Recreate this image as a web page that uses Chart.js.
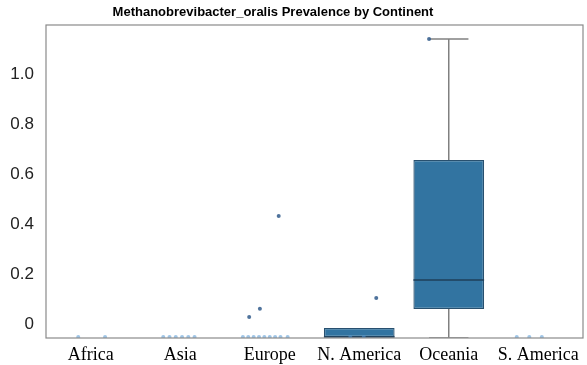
<!DOCTYPE html>
<html>
<head>
<meta charset="utf-8">
<script src="https://cdn.jsdelivr.net/npm/chart.js@4/dist/chart.umd.min.js"></script>
<style>
  html, body { margin: 0; padding: 0; background: #fff; }
  #wrap { width: 587px; height: 365px; }
</style>
</head>
<body>
<div id="wrap"><canvas id="chart" width="587" height="365"></canvas></div>
<script>
// ─── DATA ───────────────────────────────────────────────────────────
const titleText = 'Methanobrevibacter_oralis Prevalence by Continent';
const continents = ['Africa', 'Asia', 'Europe', 'N. America', 'Oceania', 'S. America'];
const yTicks = [0, 0.2, 0.4, 0.6, 0.8, 1.0];

// box stats per continent (null = no box drawn)
const boxQ1 = [null, null, null, -0.052, 0.06, null];
const boxQ3 = [null, null, null, -0.016, 0.656, null];
const boxMedian = [null, null, null, -0.052, 0.176, null];
const whiskerLow = [null, null, null, null, -0.056, null];
const whiskerHigh = [null, null, null, null, 1.14, null];

// strip points: category index, jitter, value
const stripCat = [0, 0, 1, 1, 1, 1, 1, 1, 2, 2, 2, 2, 2, 2, 2, 2, 2, 2, 2, 2, 3, 3, 3, 4, 5, 5, 5];
const stripJitter = [-0.14, 0.16, -0.19, -0.12, -0.05, 0.02, 0.09, 0.16,
  -0.3, -0.24, -0.18, -0.12, -0.06, 0.0, 0.06, 0.12, 0.2, -0.23, -0.11, 0.1,
  -0.1, 0.05, 0.19, -0.22, -0.24, -0.1, 0.04];
const stripValue = [-0.052, -0.052, -0.052, -0.052, -0.052, -0.052, -0.052, -0.052,
  -0.052, -0.052, -0.052, -0.052, -0.052, -0.052, -0.052, -0.052, -0.052, 0.028, 0.061, 0.432,
  -0.052, -0.052, 0.104, 1.14, -0.052, -0.052, -0.052];

// ─── STYLE ──────────────────────────────────────────────────────────
const boxFill = '#3274a1';
const boxEdge = '#28506f';
const whiskerColor = '#808080';
const frameColor = '#8a8a8a';

// ─── DATASETS ───────────────────────────────────────────────────────
const datasets = [];

// strip points on top
datasets.push({
  type: 'scatter',
  xAxisID: 'x2',
  order: 0,
  data: stripCat.map((c, i) => ({ x: c + stripJitter[i], y: stripValue[i] })),
  pointRadius: 2,
  pointBackgroundColor: stripValue.map(v => v < 0 ? 'rgba(80,150,210,0.55)' : 'rgba(60,100,145,0.9)'),
  pointBorderWidth: 0
});

// medians
continents.forEach((c, i) => {
  if (boxMedian[i] == null) return;
  datasets.push({
    type: 'scatter', xAxisID: 'x2', order: 1, showLine: true,
    data: [{ x: i - 0.395, y: boxMedian[i] }, { x: i + 0.395, y: boxMedian[i] }],
    borderColor: '#1f3f5a', borderWidth: 1.6, pointRadius: 0
  });
});

// boxes
datasets.push({
  type: 'bar',
  order: 2,
  grouped: false,
  data: continents.map((c, i) => boxQ1[i] == null ? null : [boxQ1[i], boxQ3[i]]),
  backgroundColor: boxFill,
  borderColor: boxEdge,
  borderWidth: 1.3,
  borderSkipped: false,
  barPercentage: 0.79,
  categoryPercentage: 1
});

// whiskers + caps
continents.forEach((c, i) => {
  if (whiskerHigh[i] == null) return;
  const segs = [
    [{ x: i, y: boxQ3[i] }, { x: i, y: whiskerHigh[i] }],
    [{ x: i, y: boxQ1[i] }, { x: i, y: whiskerLow[i] }],
    [{ x: i - 0.22, y: whiskerHigh[i] }, { x: i + 0.22, y: whiskerHigh[i] }],
    [{ x: i - 0.22, y: whiskerLow[i] }, { x: i + 0.22, y: whiskerLow[i] }]
  ];
  segs.forEach(s => datasets.push({
    type: 'scatter', xAxisID: 'x2', order: 3, showLine: true,
    data: s, borderColor: whiskerColor, borderWidth: 1.5, pointRadius: 0
  }));
});

// ─── PLUGINS ────────────────────────────────────────────────────────
const frameAndTitle = {
  id: 'frameAndTitle',
  afterDraw(chart) {
    const { ctx, chartArea: a } = chart;
    ctx.save();
    ctx.strokeStyle = frameColor;
    ctx.lineWidth = 1.2;
    ctx.strokeRect(a.left, a.top, a.right - a.left, a.bottom - a.top);
    ctx.fillStyle = '#000';
    ctx.font = 'bold 13px "Liberation Sans", Arial, sans-serif';
    ctx.textAlign = 'center';
    ctx.textBaseline = 'middle';
    ctx.fillText(titleText, 273, 12);
    ctx.restore();
  }
};

// ─── CHART ──────────────────────────────────────────────────────────
new Chart(document.getElementById('chart'), {
  type: 'bar',
  data: { labels: continents, datasets },
  plugins: [frameAndTitle],
  options: {
    responsive: false,
    animation: false,
    layout: { padding: { top: 25, right: 4, left: 0, bottom: 0 } },
    plugins: { legend: { display: false }, tooltip: { enabled: false }, title: { display: false } },
    scales: {
      x: {
        type: 'category',
        offset: true,
        grid: { display: false, drawTicks: false },
        border: { display: false },
        ticks: {
          color: '#000', padding: 6, maxRotation: 0, minRotation: 0, autoSkip: false,
          font: { family: '"Liberation Serif", "Times New Roman", serif', size: 18 }
        },
        afterFit: s => { s.height = 27; }
      },
      x2: { type: 'linear', min: -0.5, max: 5.5, offset: false, display: false },
      y: {
        min: -0.056,
        max: 1.196,
        grid: { display: false, drawTicks: false },
        border: { display: false },
        afterBuildTicks: s => { s.ticks = yTicks.map(v => ({ value: v })); },
        ticks: {
          color: '#222',
          padding: 12,
          font: { family: '"Liberation Sans", Arial, sans-serif', size: 17 },
          callback: v => v === 0 ? '0' : Number(v).toFixed(1)
        },
        afterFit: s => { s.width = 46; }
      }
    }
  }
});
</script>
</body>
</html>
